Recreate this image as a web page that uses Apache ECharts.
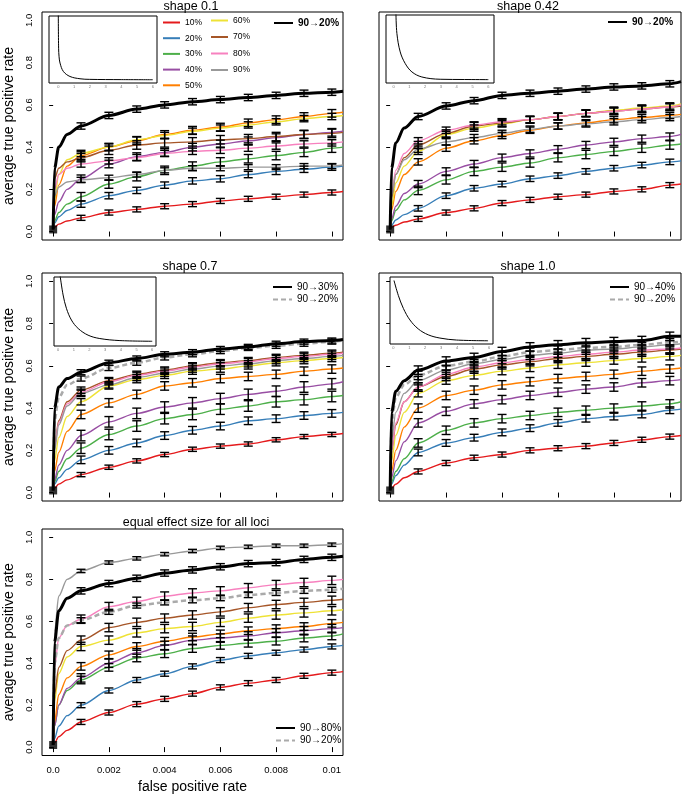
<!DOCTYPE html>
<html><head><meta charset="utf-8">
<script src="https://cdn.jsdelivr.net/npm/echarts@6/dist/echarts.min.js"></script>
<style>html,body{margin:0;padding:0;background:#fff}#chart{width:682px;height:795px}</style>
</head><body><div id="chart"></div>
<script>
// ---------------- data ----------------
const fpr = [0, 0.00005, 0.0002, 0.0005, 0.001, 0.002, 0.003, 0.004, 0.005, 0.006, 0.007, 0.008, 0.009, 0.01, 0.0104];
const errFromIndex = 4, errToIndex = 13; // error bars at 0.001 ... 0.01
const groupNames = ['10%','20%','30%','40%','50%','60%','70%','80%','90%'];
const groupColors = ['#E41A1C','#377EB8','#4DAF4A','#984EA3','#FF7F00','#EEE236','#A65628','#F781BF','#999999'];
const panelTitles = ['shape 0.1','shape 0.42','shape 0.7','shape 1.0','equal effect size for all loci'];
const xTickValues = [0, 0.002, 0.004, 0.006, 0.008, 0.01];
const xTickLabels = ['0.0','0.002','0.004','0.006','0.008','0.01'];
const yTickValues = [0, 0.2, 0.4, 0.6, 0.8, 1.0];
const yTickLabels = ['0.0','0.2','0.4','0.6','0.8','1.0'];

// shape 0.1
const shape01Lines = [
 [0.01,0.02,0.035,0.05,0.065,0.09,0.105,0.12,0.13,0.145,0.155,0.165,0.175,0.185,0.19],
 [0.01,0.04,0.07,0.10,0.13,0.17,0.195,0.22,0.24,0.25,0.27,0.285,0.295,0.305,0.31],
 [0.01,0.05,0.09,0.13,0.165,0.225,0.26,0.29,0.31,0.33,0.345,0.36,0.375,0.395,0.40],
 [0.01,0.08,0.14,0.20,0.25,0.32,0.355,0.375,0.40,0.415,0.43,0.445,0.46,0.47,0.475],
 [0.01,0.12,0.22,0.31,0.36,0.40,0.43,0.46,0.48,0.495,0.515,0.53,0.545,0.56,0.565],
 [0.01,0.15,0.27,0.34,0.37,0.40,0.435,0.455,0.475,0.49,0.505,0.52,0.535,0.545,0.55],
 [0.01,0.25,0.30,0.33,0.35,0.385,0.41,0.42,0.425,0.435,0.44,0.45,0.46,0.465,0.47],
 [0.01,0.20,0.27,0.30,0.32,0.335,0.35,0.37,0.38,0.385,0.395,0.405,0.415,0.42,0.425],
 [0.01,0.17,0.21,0.235,0.245,0.255,0.27,0.29,0.30,0.30,0.305,0.305,0.31,0.31,0.315]
];
const shape01Top = [0.01,0.30,0.40,0.46,0.50,0.55,0.58,0.60,0.615,0.625,0.635,0.645,0.655,0.66,0.665];
const shape01Err = [0.012,0.015,0.02,0.018,0.018,0.015,0.02,0.015,0.012,0.015];

// shape 0.42
const shape042Lines = [
 [0.01,0.02,0.03,0.045,0.06,0.09,0.11,0.135,0.15,0.165,0.175,0.19,0.20,0.22,0.225],
 [0.01,0.03,0.055,0.08,0.11,0.17,0.205,0.225,0.25,0.265,0.285,0.30,0.315,0.33,0.335],
 [0.01,0.05,0.10,0.15,0.195,0.245,0.285,0.305,0.325,0.35,0.365,0.38,0.395,0.41,0.415],
 [0.01,0.06,0.12,0.18,0.225,0.285,0.32,0.35,0.37,0.39,0.41,0.425,0.44,0.45,0.46],
 [0.01,0.10,0.19,0.27,0.33,0.395,0.43,0.455,0.48,0.50,0.515,0.53,0.54,0.55,0.555],
 [0.01,0.12,0.23,0.31,0.38,0.46,0.49,0.51,0.53,0.545,0.56,0.575,0.585,0.595,0.605],
 [0.01,0.16,0.27,0.35,0.41,0.465,0.50,0.515,0.53,0.545,0.56,0.57,0.58,0.59,0.595],
 [0.01,0.18,0.29,0.37,0.43,0.48,0.505,0.52,0.53,0.545,0.56,0.57,0.58,0.59,0.60],
 [0.01,0.17,0.27,0.34,0.39,0.425,0.445,0.465,0.485,0.50,0.51,0.52,0.53,0.54,0.545]
];
const shape042Top = [0.01,0.30,0.42,0.49,0.545,0.595,0.62,0.645,0.655,0.665,0.675,0.685,0.69,0.70,0.71];
const shape042Err = [0.012,0.013,0.02,0.017,0.015,0.015,0.017,0.015,0.015,0.015];

// shape 0.7
const shape07Lines = [
 [0.01,0.02,0.04,0.06,0.085,0.12,0.15,0.18,0.205,0.22,0.23,0.25,0.265,0.275,0.28],
 [0.01,0.04,0.07,0.11,0.155,0.20,0.235,0.27,0.295,0.315,0.34,0.35,0.365,0.375,0.38],
 [0.01,0.05,0.10,0.16,0.21,0.275,0.315,0.35,0.37,0.395,0.41,0.43,0.44,0.455,0.46],
 [0.01,0.06,0.13,0.20,0.27,0.335,0.375,0.405,0.425,0.445,0.465,0.48,0.50,0.515,0.525],
 [0.01,0.10,0.19,0.29,0.37,0.425,0.465,0.505,0.52,0.54,0.55,0.56,0.575,0.585,0.59],
 [0.01,0.15,0.26,0.36,0.43,0.505,0.535,0.555,0.575,0.585,0.60,0.615,0.625,0.635,0.64],
 [0.01,0.22,0.34,0.43,0.485,0.53,0.56,0.58,0.60,0.615,0.625,0.64,0.65,0.66,0.665],
 [0.01,0.22,0.33,0.42,0.475,0.525,0.555,0.575,0.595,0.61,0.62,0.635,0.645,0.655,0.66],
 [0.01,0.20,0.32,0.41,0.47,0.51,0.545,0.565,0.585,0.60,0.61,0.625,0.635,0.645,0.65]
];
const shape07Dashed = [0.01,0.34,0.45,0.51,0.54,0.59,0.615,0.64,0.655,0.67,0.685,0.695,0.705,0.715,0.72];
const shape07Top = [0.01,0.40,0.50,0.54,0.57,0.615,0.635,0.655,0.665,0.68,0.69,0.705,0.715,0.72,0.725];
const shape07Err = [0.01,0.018,0.025,0.025,0.02,0.015,0.015,0.015,0.015,0.012,0.012];

// shape 1.0
const shape10Lines = [
 [0.01,0.02,0.04,0.07,0.10,0.14,0.165,0.18,0.20,0.21,0.22,0.235,0.25,0.265,0.27],
 [0.01,0.04,0.08,0.13,0.19,0.235,0.26,0.285,0.305,0.33,0.35,0.36,0.37,0.39,0.395],
 [0.01,0.05,0.10,0.16,0.235,0.295,0.33,0.35,0.365,0.38,0.39,0.40,0.41,0.42,0.43],
 [0.01,0.07,0.15,0.24,0.33,0.385,0.42,0.44,0.46,0.475,0.49,0.50,0.52,0.53,0.535],
 [0.01,0.10,0.20,0.31,0.40,0.46,0.485,0.51,0.525,0.54,0.55,0.56,0.575,0.585,0.59],
 [0.01,0.15,0.27,0.38,0.47,0.53,0.555,0.575,0.59,0.605,0.615,0.625,0.635,0.645,0.65],
 [0.01,0.20,0.32,0.43,0.50,0.55,0.585,0.605,0.62,0.635,0.645,0.655,0.665,0.675,0.68],
 [0.01,0.20,0.33,0.43,0.50,0.56,0.595,0.615,0.63,0.645,0.655,0.665,0.675,0.68,0.685],
 [0.01,0.25,0.38,0.47,0.53,0.58,0.61,0.63,0.65,0.66,0.675,0.68,0.69,0.70,0.705]
];
const shape10Dashed = [0.01,0.33,0.45,0.51,0.555,0.60,0.62,0.645,0.665,0.675,0.685,0.69,0.70,0.71,0.715];
const shape10Top = [0.01,0.38,0.48,0.53,0.58,0.623,0.64,0.668,0.69,0.70,0.71,0.715,0.72,0.74,0.74];
const shape10Err = [0.012,0.016,0.02,0.02,0.02,0.017,0.02,0.02,0.02,0.02,0.02];

// equal effect size
const equalLines = [
 [0.01,0.02,0.05,0.08,0.12,0.165,0.205,0.23,0.255,0.285,0.305,0.32,0.34,0.355,0.36],
 [0.01,0.04,0.10,0.15,0.20,0.27,0.32,0.35,0.385,0.415,0.435,0.45,0.465,0.48,0.485],
 [0.01,0.10,0.20,0.27,0.32,0.38,0.425,0.445,0.47,0.485,0.495,0.505,0.52,0.53,0.54],
 [0.01,0.10,0.20,0.28,0.33,0.40,0.45,0.485,0.51,0.52,0.53,0.545,0.555,0.565,0.57],
 [0.01,0.12,0.25,0.33,0.385,0.44,0.48,0.505,0.525,0.54,0.555,0.565,0.575,0.59,0.595],
 [0.01,0.22,0.35,0.43,0.48,0.51,0.545,0.565,0.575,0.595,0.615,0.63,0.64,0.65,0.655],
 [0.01,0.25,0.38,0.46,0.51,0.57,0.595,0.615,0.63,0.645,0.665,0.68,0.69,0.70,0.705],
 [0.01,0.38,0.52,0.58,0.61,0.67,0.695,0.72,0.735,0.745,0.76,0.775,0.785,0.795,0.80],
 [0.01,0.55,0.72,0.80,0.84,0.88,0.90,0.92,0.935,0.95,0.955,0.96,0.96,0.965,0.97]
];
const equalDashed = [0.01,0.40,0.52,0.58,0.605,0.645,0.675,0.69,0.70,0.71,0.725,0.735,0.745,0.75,0.755];
const equalTop = [0.01,0.50,0.65,0.71,0.745,0.78,0.805,0.83,0.845,0.86,0.875,0.88,0.895,0.905,0.91];
const equalErr = [0.012,0.012,0.018,0.02,0.018,0.02,0.02,0.02,0.008,0.015,0.012];

// inset density curves
const inset01X = [0, 0.02, 0.05, 0.11, 0.32, 0.74, 1.38, 2.0, 4.0, 6.0];
const inset01Y = [5.5, 2.6, 1.9, 1.38, 0.69, 0.27, 0.08, 0.03, 0.01, 0.0];
const inset042X = [0.15, 0.21, 0.42, 0.74, 1.16, 1.79, 2.95, 4.5, 6.0];
const inset042Y = [5.5, 3.83, 2.3, 1.33, 0.64, 0.22, 0.03, 0.01, 0.0];
const inset07X = [0.13, 0.32, 0.53, 0.85, 1.28, 1.91, 2.66, 3.94, 6.0];
const inset07Y = [5.8, 4.1, 2.92, 1.88, 1.13, 0.54, 0.24, 0.06, 0.0];
const inset10X = [0.04, 0.31, 0.63, 1.04, 1.56, 2.19, 2.92, 3.96, 5.94];
const inset10Y = [4.92, 3.72, 2.66, 1.73, 1.01, 0.53, 0.27, 0.11, 0.05];
const insetXTicks = [0,1,2,3,4,5,6];
const insetYTicks = [0,1,2,3,4,5];

// ---------------- layout / styles ----------------
const FONT = 'Liberation Sans, Arial, Helvetica, sans-serif';
const panels = [
  {lines: shape01Lines, top: shape01Top, topName: '90→20%', dashed: null, err: shape01Err,
   box: [42, 12, 301, 228], titleX: 191, titleY: 0, leftCol: true, bottom: false},
  {lines: shape042Lines, top: shape042Top, topName: '90→20%', dashed: null, err: shape042Err,
   box: [379, 12, 302, 228], titleX: 528, titleY: 0, leftCol: false, bottom: false},
  {lines: shape07Lines, top: shape07Top, topName: '90→30%', dashed: shape07Dashed, dashedName: '90→20%', err: shape07Err,
   box: [42, 273, 301, 228], titleX: 190, titleY: 260, leftCol: true, bottom: false},
  {lines: shape10Lines, top: shape10Top, topName: '90→40%', dashed: shape10Dashed, dashedName: '90→20%', err: shape10Err,
   box: [379, 273, 302, 228], titleX: 528, titleY: 260, leftCol: false, bottom: false},
  {lines: equalLines, top: equalTop, topName: '90→80%', dashed: equalDashed, dashedName: '90→20%', err: equalErr,
   box: [42, 529, 301, 227], titleX: 196, titleY: 516, leftCol: true, bottom: true}
];
const insets = [
  {x: inset01X, y: inset01Y, box: [49, 16, 108, 67], xr: [-0.59, 6.27], yr: [-0.27, 5.27]},
  {x: inset042X, y: inset042Y, box: [386, 15, 108, 68], xr: [-0.48, 6.36], yr: [-0.28, 5.36]},
  {x: inset07X, y: inset07Y, box: [54, 277, 102, 69], xr: [-0.26, 6.24], yr: [-0.42, 5.69]},
  {x: inset10X, y: inset10Y, box: [390, 277, 103, 67], xr: [-0.21, 6.25], yr: [-0.21, 5.2]}
];

function labelFrom(values, labels) {
  return v => { const k = values.findIndex(t => Math.abs(t - v) < 1e-9); return k >= 0 ? labels[k] : ''; };
}

function renderErr(params, api) {
  const x = api.value(0), lo = api.value(1), hi = api.value(2);
  const a = api.coord([x, lo]), b = api.coord([x, hi]);
  const w = 4.5;
  const st = {stroke: '#000', lineWidth: 1.4};
  return {type: 'group', children: [
    {type: 'line', shape: {x1: a[0], y1: a[1], x2: b[0], y2: b[1]}, style: st},
    {type: 'line', shape: {x1: a[0] - w, y1: a[1], x2: a[0] + w, y2: a[1]}, style: st},
    {type: 'line', shape: {x1: b[0] - w, y1: b[1], x2: b[0] + w, y2: b[1]}, style: st}
  ]};
}

const grids = [], xAxes = [], yAxes = [], series = [], titles = [];
const toPts = vals => fpr.map((x, k) => [x, vals[k]]);

panels.forEach((p, i) => {
  grids.push({left: p.box[0], top: p.box[1], width: p.box[2], height: p.box[3],
    show: true, borderColor: '#000', borderWidth: 1, backgroundColor: 'transparent', containLabel: false});
  titles.push({text: panelTitles[i], left: p.titleX, top: p.titleY, textAlign: 'center', padding: 0,
    textStyle: {fontSize: 12.5, fontWeight: 'normal', color: '#000', fontFamily: FONT}});
  xAxes.push({type: 'value', gridIndex: i, min: -0.0004, max: 0.0104, offset: 2.5,
    axisLine: {show: false}, splitLine: {show: false},
    axisTick: {show: true, length: 5, customValues: xTickValues, lineStyle: {color: '#000', width: 1}},
    axisLabel: {show: p.bottom, customValues: xTickValues, formatter: labelFrom(xTickValues, xTickLabels),
      fontSize: 9.5, color: '#000', margin: 7, fontFamily: FONT},
    name: p.bottom ? 'false positive rate' : '', nameLocation: 'middle', nameGap: 22,
    nameTextStyle: {fontSize: 14, color: '#000', fontFamily: FONT}});
  yAxes.push({type: 'value', gridIndex: i, min: -0.04, max: 1.04, offset: 2,
    axisLine: {show: false}, splitLine: {show: false},
    axisTick: {show: true, length: 4, customValues: yTickValues, lineStyle: {color: '#000', width: 1}},
    axisLabel: {show: p.leftCol, rotate: 90, customValues: yTickValues, formatter: labelFrom(yTickValues, yTickLabels),
      fontSize: 9.5, color: '#000', margin: 6, fontFamily: FONT},
    name: p.leftCol ? 'average true positive rate' : '', nameLocation: 'middle', nameGap: 24,
    nameTextStyle: {fontSize: 14, color: '#000', fontFamily: FONT}});

  const errRows = [];
  p.lines.forEach((vals, g) => {
    series.push({type: 'line', name: groupNames[g], xAxisIndex: i, yAxisIndex: i, data: toPts(vals),
      symbol: 'none', showSymbol: false, smooth: 0.3, smoothMonotone: 'x', z: 2,
      lineStyle: {color: groupColors[g], width: 1.4}, itemStyle: {color: groupColors[g]}});
    errRows.push([vals, p.err[g]]);
  });
  if (p.dashed) {
    series.push({type: 'line', name: p.dashedName + '@' + i, xAxisIndex: i, yAxisIndex: i, data: toPts(p.dashed),
      symbol: 'none', showSymbol: false, smooth: 0.3, smoothMonotone: 'x', z: 3,
      lineStyle: {color: '#aaaaaa', width: 2.5, type: [5, 3]}, itemStyle: {color: '#aaaaaa'}});
    errRows.push([p.dashed, p.err[10]]);
  }
  series.push({type: 'line', name: p.topName + '@' + i, xAxisIndex: i, yAxisIndex: i, data: toPts(p.top),
    symbol: 'none', showSymbol: false, smooth: 0.3, smoothMonotone: 'x', z: 4,
    lineStyle: {color: '#000', width: 3}, itemStyle: {color: '#000'}});
  errRows.push([p.top, p.err[9]]);

  const errData = [];
  errRows.forEach(([vals, e]) => {
    for (let k = errFromIndex; k <= errToIndex; k++) errData.push([fpr[k], vals[k] - e, vals[k] + e]);
  });
  series.push({type: 'custom', name: 'err' + i, xAxisIndex: i, yAxisIndex: i, data: errData,
    renderItem: renderErr, encode: {x: 0, y: [1, 2]}, z: 5, silent: true});
  series.push({type: 'scatter', name: 'origin' + i, xAxisIndex: i, yAxisIndex: i,
    data: [[fpr[0], p.top[0]]], symbol: 'rect', symbolSize: 8, itemStyle: {color: '#000'}, z: 6, silent: true});
});

insets.forEach((ins, j) => {
  const gi = panels.length + j;
  grids.push({left: ins.box[0], top: ins.box[1], width: ins.box[2], height: ins.box[3],
    show: true, borderColor: '#000', borderWidth: 1, backgroundColor: '#fff', z: 1});
  xAxes.push({type: 'value', gridIndex: gi, min: ins.xr[0], max: ins.xr[1],
    axisLine: {show: false}, splitLine: {show: false},
    axisTick: {show: true, length: 2, customValues: insetXTicks, lineStyle: {color: '#555', width: 0.6}},
    axisLabel: {show: true, customValues: insetXTicks, fontSize: 4, color: '#777', margin: 1.5}});
  yAxes.push({type: 'value', gridIndex: gi, min: ins.yr[0], max: ins.yr[1],
    axisLine: {show: false}, splitLine: {show: false},
    axisTick: {show: false},
    axisLabel: {show: true, inside: true, rotate: 90, customValues: insetYTicks, fontSize: 4, color: '#777', margin: 2}});
  series.push({type: 'line', name: 'density' + j, xAxisIndex: gi, yAxisIndex: gi,
    data: ins.x.map((x, k) => [x, ins.y[k]]), symbol: 'none', showSymbol: false,
    smooth: 0.35, lineStyle: {color: '#000', width: 1}, z: 3, silent: true});
});

const legendBase = {selectedMode: false, orient: 'vertical', padding: 0,
  formatter: n => n.split('@')[0], itemStyle: {opacity: 0, borderWidth: 0}};
const legends = [
  Object.assign({}, legendBase, {data: groupNames.slice(0, 5), left: 162, top: 18, itemWidth: 17, itemHeight: 8, itemGap: 6.7,
    lineStyle: {width: 2}, textStyle: {fontSize: 8.5, color: '#000', fontFamily: FONT}}),
  Object.assign({}, legendBase, {data: groupNames.slice(5), left: 210, top: 16, itemWidth: 17, itemHeight: 8, itemGap: 7.5,
    lineStyle: {width: 2}, textStyle: {fontSize: 8.5, color: '#000', fontFamily: FONT}}),
  Object.assign({}, legendBase, {data: ['90→20%@0'], left: 273, top: 18, itemWidth: 19, itemHeight: 10,
    textStyle: {fontSize: 10, fontWeight: 'bold', color: '#000', fontFamily: FONT}}),
  Object.assign({}, legendBase, {data: ['90→20%@1'], left: 607, top: 17, itemWidth: 19, itemHeight: 10,
    textStyle: {fontSize: 10, fontWeight: 'bold', color: '#000', fontFamily: FONT}}),
  Object.assign({}, legendBase, {data: ['90→30%@2', '90→20%@2'], left: 272, top: 282, itemWidth: 19, itemHeight: 10, itemGap: 2.5,
    textStyle: {fontSize: 10, color: '#000', fontFamily: FONT}}),
  Object.assign({}, legendBase, {data: ['90→40%@3', '90→20%@3'], left: 609, top: 282, itemWidth: 19, itemHeight: 10, itemGap: 2.5,
    textStyle: {fontSize: 10, color: '#000', fontFamily: FONT}}),
  Object.assign({}, legendBase, {data: ['90→80%@4', '90→20%@4'], left: 275, top: 723, itemWidth: 19, itemHeight: 10, itemGap: 2.5,
    textStyle: {fontSize: 10, color: '#000', fontFamily: FONT}})
];

const chart = echarts.init(document.getElementById('chart'), null, {renderer: 'canvas'});
chart.setOption({
  animation: false,
  backgroundColor: '#fff',
  textStyle: {fontFamily: FONT},
  title: titles,
  legend: legends,
  grid: grids,
  xAxis: xAxes,
  yAxis: yAxes,
  series: series
});
</script></body></html>
